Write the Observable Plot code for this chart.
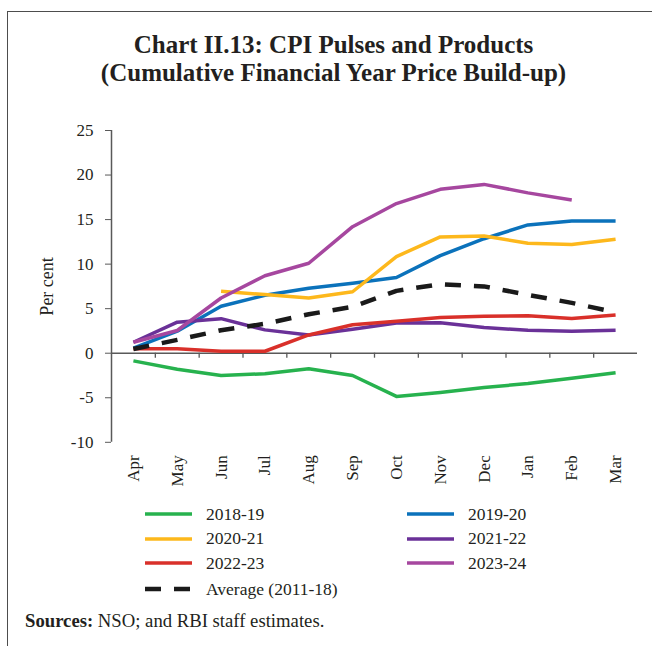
<!DOCTYPE html>
<html>
<head>
<meta charset="utf-8">
<script src="https://cdn.jsdelivr.net/npm/d3@7"></script>
<script src="https://cdn.jsdelivr.net/npm/@observablehq/plot@0.6"></script>
<style>
  html, body { margin: 0; padding: 0; background: #fff; }
  body { width: 652px; height: 646px; position: relative; overflow: hidden; font-family: "Liberation Serif", "DejaVu Serif", serif; color: #231f20; }
  #frame { position: absolute; left: 6.5px; top: 10.5px; width: 700px; height: 700px; border-left: 1.5px solid #4d4d4d; border-top: 1.5px solid #4d4d4d; }
  #title { position: absolute; left: 15px; width: 637px; top: 30.7px; text-align: center; font-weight: bold; font-size: 25px; line-height: 28.4px; }
  #chart { position: absolute; left: 0; top: 110px; }
  .lg { position: absolute; display: flex; align-items: center; font-size: 17.5px; height: 20px; }
  .lg svg { margin-right: 13px; }
  #src { position: absolute; left: 25px; top: 611.5px; font-size: 18.7px; line-height: 18px; white-space: nowrap; }
</style>
</head>
<body>
<div id="frame"></div>
<div id="title">Chart II.13: CPI Pulses and Products<br>(Cumulative Financial Year Price Build-up)</div>
<div id="chart"></div>
<div id="legend"></div>
<div id="src"><b>Sources:</b> NSO; and RBI staff estimates.</div>
<script>
const months = ["Apr","May","Jun","Jul","Aug","Sep","Oct","Nov","Dec","Jan","Feb","Mar"];
const yTicks = [-10, -5, 0, 5, 10, 15, 20, 25];

const s201819 = [-0.86, -1.8, -2.5, -2.3, -1.75, -2.5, -4.85, -4.4, -3.85, -3.4, -2.8, -2.2];
const s201920 = [0.56, 2.47, 5.27, 6.5, 7.3, 7.85, 8.5, 10.95, 12.85, 14.4, 14.85, 14.85];
const s202021 = [null, null, 6.96, 6.58, 6.2, 6.9, 10.85, 13.05, 13.15, 12.35, 12.2, 12.8];
const s202122 = [1.23, 3.48, 3.88, 2.62, 2.05, 2.7, 3.4, 3.42, 2.88, 2.58, 2.47, 2.58];
const s202223 = [0.49, 0.49, 0.22, 0.22, 2.05, 3.2, 3.6, 4.0, 4.15, 4.2, 3.9, 4.3];
const s202324 = [1.23, 2.55, 6.2, 8.7, 10.1, 14.2, 16.8, 18.4, 18.95, 18.0, 17.2, null];
const avg201118 = [0.47, 1.5, 2.58, 3.3, 4.38, 5.2, 7.0, 7.75, 7.5, 6.55, 5.65, 4.6];

const seriesNames = ["2018-19", "2019-20", "2020-21", "2021-22", "2022-23", "2023-24", "Average (2011-18)"];
const seriesValues = [s201819, s201920, s202021, s202122, s202223, s202324, avg201118];
const colors = ["#27b24e", "#0b72bb", "#fdb81c", "#6a3198", "#d9302a", "#a6479f", "#1a1a1a"];
const dashes = [null, null, null, null, null, null, "16,13"];
const widths = [3.5, 3.5, 3.5, 3.5, 3.5, 3.5, 4.5];
const drawOrder = [0, 1, 2, 3, 4, 5, 6];

const idx = months.map((m, i) => i);
const bounds = months.slice(1).map((m, i) => i + 0.5);

const lineMarks = drawOrder.map(k => {
  const data = seriesValues[k].map((v, i) => ({i, v}));
  return Plot.line(data, {
    x: "i", y: "v",
    stroke: colors[k], strokeWidth: widths[k],
    strokeDasharray: dashes[k] || undefined,
    strokeLinejoin: "round", strokeLinecap: "butt"
  });
});

const axisColor = "#595959";

const plot = Plot.plot({
  width: 652,
  height: 390,
  marginLeft: 111,
  marginRight: 15,
  marginTop: 20,
  marginBottom: 58.2,
  style: { fontFamily: "'Liberation Serif', serif", fontSize: "17px", color: "#231f20", background: "transparent", overflow: "visible" },
  x: {
    type: "linear",
    domain: [-0.5, 11.5],
    ticks: idx,
    tickFormat: i => months[i],
    tickRotate: -90,
    tickSize: 0,
    tickPadding: 13,
    label: null
  },
  y: {
    domain: [-10, 25],
    ticks: yTicks,
    tickFormat: d => String(d),
    tickSize: 6,
    tickPadding: 12,
    label: null
  },
  marks: [
    Plot.ruleX([-0.5], {y1: -10, y2: 25, stroke: axisColor, strokeWidth: 1.5}),
    Plot.ruleY([0], {stroke: axisColor, strokeWidth: 1.5}),
    Plot.ruleX(bounds, {y1: 0, y2: -0.56, stroke: axisColor, strokeWidth: 1.3}),
    ...lineMarks,
    Plot.text(["Per cent"], {frameAnchor: "left", textAnchor: "middle", dx: -64, rotate: -90, fontSize: 18, fill: "#231f20"})
  ]
});
plot.querySelectorAll("g[aria-label='y-axis tick'] path, g[aria-label='y-axis'] path").forEach(p => p.setAttribute("stroke", axisColor));
document.getElementById("chart").appendChild(plot);

// Legend
const legendPos = [
  {k: 0, col: 0, row: 0}, {k: 1, col: 1, row: 0},
  {k: 2, col: 0, row: 1}, {k: 3, col: 1, row: 1},
  {k: 4, col: 0, row: 2}, {k: 5, col: 1, row: 2},
  {k: 6, col: 0, row: 3}
];
const rowY = [514, 538.5, 563, 589];
const colX = [145, 407];
const lg = document.getElementById("legend");
legendPos.forEach(({k, col, row}) => {
  const div = document.createElement("div");
  div.className = "lg";
  div.style.left = colX[col] + "px";
  div.style.top = (rowY[row] - 10) + "px";
  const dash = dashes[k] ? `stroke-dasharray="16,13"` : "";
  div.innerHTML = `<svg width="48" height="10"><line x1="0" x2="47" y1="5" y2="5" stroke="${colors[k]}" stroke-width="${dashes[k] ? 4.5 : 3.5}" ${dash}/></svg><span>${seriesNames[k]}</span>`;
  lg.appendChild(div);
});
</script>
</body>
</html>
